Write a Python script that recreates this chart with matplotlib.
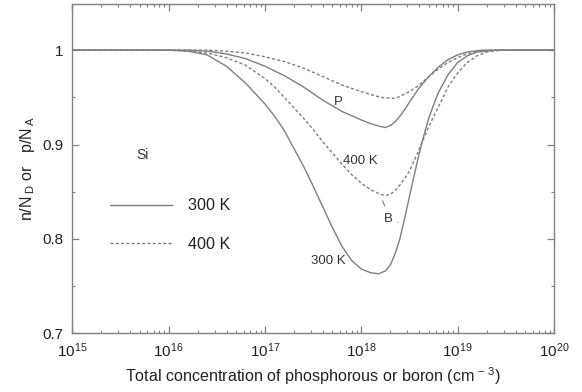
import numpy as np
import matplotlib
matplotlib.use("Agg")
import matplotlib.pyplot as plt
from matplotlib.ticker import LogLocator, FixedLocator, MultipleLocator, NullFormatter

plt.rcParams['font.family'] = ['Liberation Sans', 'DejaVu Sans']
plt.rcParams['mathtext.fontset'] = 'custom'
plt.rcParams['mathtext.rm'] = 'Liberation Sans'
plt.rcParams['mathtext.it'] = 'Liberation Sans'

# log10 of total dopant concentration (cm^-3) and ionized fraction
b300_logn = [15.0, 16.0, 16.2, 16.4, 16.6, 16.8, 17.0, 17.1, 17.2, 17.3, 17.4, 17.5,
             17.6, 17.7, 17.8, 17.9, 18.0, 18.1, 18.18, 18.25, 18.3, 18.35, 18.4,
             18.45, 18.5, 18.55, 18.6, 18.65, 18.7, 18.75, 18.8, 18.9, 19.0, 19.1,
             19.2, 19.4, 20.0]
b300_frac = [1.0, 1.0, 0.999, 0.995, 0.983, 0.965, 0.943, 0.930, 0.915, 0.896, 0.877,
             0.856, 0.834, 0.812, 0.792, 0.777, 0.768, 0.764, 0.763, 0.766, 0.772,
             0.784, 0.800, 0.822, 0.845, 0.868, 0.890, 0.910, 0.928, 0.942, 0.955,
             0.974, 0.987, 0.994, 0.998, 1.0, 1.0]

b400_logn = [15.0, 16.0, 16.2, 16.4, 16.6, 16.8, 17.0, 17.1, 17.2, 17.3, 17.4, 17.5,
             17.6, 17.7, 17.8, 17.9, 18.0, 18.1, 18.2, 18.25, 18.3, 18.35, 18.4,
             18.45, 18.5, 18.55, 18.6, 18.7, 18.8, 18.9, 19.0, 19.1, 19.2, 19.3,
             19.45, 20.0]
b400_frac = [1.0, 1.0, 0.999, 0.997, 0.992, 0.984, 0.970, 0.961, 0.950, 0.939, 0.928,
             0.916, 0.903, 0.891, 0.879, 0.868, 0.859, 0.852, 0.847, 0.846, 0.847,
             0.851, 0.857, 0.864, 0.872, 0.883, 0.895, 0.919, 0.940, 0.961, 0.976,
             0.987, 0.994, 0.998, 1.0, 1.0]

p300_logn = [15.0, 16.2, 16.4, 16.6, 16.8, 17.0, 17.2, 17.4, 17.6, 17.8, 18.0, 18.1,
             18.2, 18.25, 18.3, 18.35, 18.4, 18.45, 18.5, 18.6, 18.7, 18.8, 18.9,
             19.0, 19.1, 19.25, 20.0]
p300_frac = [1.0, 1.0, 0.999, 0.996, 0.991, 0.983, 0.973, 0.961, 0.947, 0.935, 0.926,
             0.922, 0.919, 0.918, 0.920, 0.924, 0.930, 0.937, 0.945, 0.960, 0.972,
             0.982, 0.990, 0.995, 0.998, 1.0, 1.0]

p400_logn = [15.0, 16.4, 16.6, 16.8, 17.0, 17.2, 17.4, 17.6, 17.8, 18.0, 18.1, 18.2,
             18.3, 18.35, 18.4, 18.5, 18.6, 18.7, 18.8, 18.9, 19.0, 19.1, 19.2,
             19.35, 20.0]
p400_frac = [1.0, 1.0, 0.999, 0.997, 0.993, 0.988, 0.981, 0.972, 0.963, 0.956, 0.953,
             0.950, 0.949, 0.949, 0.951, 0.956, 0.963, 0.972, 0.980, 0.987, 0.992,
             0.996, 0.999, 1.0, 1.0]

line_col = '#7f7f7f'
dash = (0, (2.2, 1.6))

fig = plt.figure(figsize=(5.82, 3.92), dpi=100)
ax = fig.add_axes([0.124, 0.150, 0.828, 0.840])

h300, = ax.plot(10.0 ** np.array(b300_logn), b300_frac, color=line_col, lw=1.0)
h400, = ax.plot(10.0 ** np.array(b400_logn), b400_frac, color=line_col, lw=1.0, ls=dash)
ax.plot(10.0 ** np.array(p300_logn), p300_frac, color=line_col, lw=1.0)
ax.plot(10.0 ** np.array(p400_logn), p400_frac, color=line_col, lw=1.0, ls=dash)

ax.set_xscale('log')
ax.set_xlim(1e15, 1e20)
ax.set_ylim(0.7, 1.049)
ax.xaxis.set_major_locator(LogLocator(base=10, numticks=10))
ax.xaxis.set_minor_locator(LogLocator(base=10, subs=np.arange(2, 10), numticks=50))
ax.xaxis.set_minor_formatter(NullFormatter())
ax.yaxis.set_major_locator(FixedLocator([0.7, 0.8, 0.9, 1.0]))
ax.set_yticklabels(['0.7', '0.8', '0.9', '1'])
ax.yaxis.set_minor_locator(MultipleLocator(0.05))

for s in ax.spines.values():
    s.set_color('#808080')
    s.set_linewidth(1.0)
ax.tick_params(which='both', direction='in', top=True, right=True, colors='#808080',
               labelcolor='#222222', labelsize=11)
ax.tick_params(which='major', length=5, width=0.9, pad=6)
ax.tick_params(which='minor', length=2.5, width=0.8)

ax.set_xlabel(r'Total concentration of phosphorous or boron (cm$^{\,-\,3}$)',
              fontsize=11.6, color='#222222', labelpad=4)
ax.set_ylabel(r'n/N$_{\;\rm D}$ or   p/N$_{\;\rm A}$', fontsize=11.5, color='#222222',
              labelpad=4)

tc = '#333333'
ax.text(5.4e15, 0.889, 'Si', fontsize=10, color=tc, ha='center', va='center')
ax.text(5.8e17, 0.945, 'P', fontsize=9.5, color=tc, ha='center', va='center')
ax.text(9.8e17, 0.883, '400 K', fontsize=9.5, color=tc, ha='center', va='center')
ax.text(4.6e17, 0.777, '300 K', fontsize=9.5, color=tc, ha='center', va='center')
ax.text(1.9e18, 0.821, 'B', fontsize=9.5, color=tc, ha='center', va='center')
# leader ticks from the B label to both boron curves
ax.annotate('', xy=(1.62e18, 0.843), xytext=(1.8e18, 0.832),
            arrowprops=dict(arrowstyle='-', color=line_col, lw=0.8))
ax.annotate('', xy=(2.55e18, 0.816), xytext=(2.27e18, 0.819),
            arrowprops=dict(arrowstyle='-', color=line_col, lw=0.8))

leg = ax.legend([h300, h400], ['300 K', '400 K'], loc='upper left',
                bbox_to_anchor=(0.079, 0.41), frameon=False, fontsize=11.6,
                handlelength=3.85, handletextpad=0.95, labelspacing=1.45,
                borderpad=0, borderaxespad=0)
for t in leg.get_texts():
    t.set_color('#222222')

fig.savefig('out.png', dpi=100)
